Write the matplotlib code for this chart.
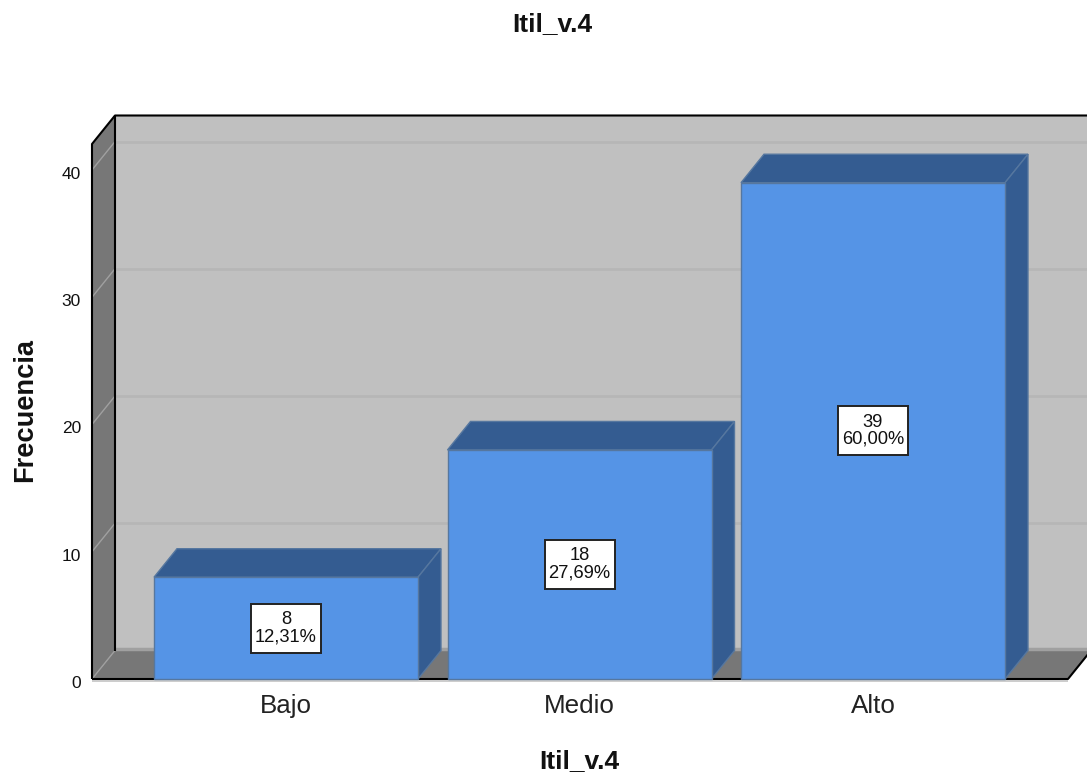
import matplotlib
matplotlib.use('Agg')
import matplotlib.pyplot as plt
from matplotlib.patches import Polygon, Rectangle
from matplotlib.transforms import ScaledTranslation

plt.rcParams['font.family'] = ['Liberation Sans', 'DejaVu Sans']

categories = ['Bajo', 'Medio', 'Alto']
counts = [8, 18, 39]
percents = ['12,31%', '27,69%', '60,00%']
y_ticks = [0, 10, 20, 30, 40]

W, H = 1087, 778
x_left, x_right = 92, 1068
y_bottom, y_top = 679, 144
px_per_cat = 293.5
px_per_unit = 12.725

front = '#5594e6'
shade = '#345c91'
edge = '#56779f'
wall = '#c0c0c0'
side = '#777777'

fig = plt.figure(figsize=(W / 100, H / 100), dpi=100)
ax = fig.add_axes([x_left / W, 1 - y_bottom / H, (x_right - x_left) / W, (y_bottom - y_top) / H])
ax.set_xlim(-194 / px_per_cat, (x_right - 286) / px_per_cat)
ax.set_ylim(0, (y_bottom - y_top) / px_per_unit)
for s in ax.spines.values():
    s.set_visible(False)
ax.patch.set_visible(False)

# depth of the fake 3d box, in data units
dx = 23 / px_per_cat
dy = 28.5 / px_per_unit
x0, x1 = ax.get_xlim()
y1 = ax.get_ylim()[1]
bar_w = 264 / px_per_cat


def poly(points, color, ec='none', lw=0, z=1):
    ax.add_patch(Polygon(points, closed=True, fc=color, ec=ec, lw=lw, zorder=z, clip_on=False))


def line(xs, ys, color='black', lw=1.5, z=2):
    ax.plot(xs, ys, color=color, lw=lw, zorder=z, clip_on=False, solid_capstyle='butt')


# walls and floor
poly([(x0 + dx, dy), (x1 + dx, dy), (x1 + dx, y1 + dy), (x0 + dx, y1 + dy)], wall)
poly([(x0, 0), (x0 + dx, dy), (x0 + dx, y1 + dy), (x0, y1)], side)
poly([(x0, 0), (x1, 0), (x1 + dx, dy), (x0 + dx, dy)], side)
line([x0 + dx, x1 + dx], [dy + 0.1, dy + 0.1], color='#a0a0a0', lw=2.5)

# grid on the back wall and the side wall
for t in y_ticks[1:]:
    line([x0 + dx, x1 + dx], [t + dy, t + dy], color='#b6b6b6', lw=2)
    line([x0, x0 + dx], [t, t + dy], color='#a0a0a0', lw=1)
line([x0, x0 + dx], [0, dy], color='#a0a0a0', lw=1)

# box outline
line([x0, x0, x0 + dx, x1 + dx], [0, y1, y1 + dy, y1 + dy])
line([x0 + dx, x0 + dx], [dy, y1 + dy])
line([x0, x1, x1 + dx], [0, 0, dy])
line([x0, x1], [-0.12, -0.12], color='#c4c4c4', lw=1.2)

# bars
ax.bar(range(len(counts)), counts, width=bar_w, color=front, edgecolor=edge, linewidth=1, zorder=4, clip_on=False)
for i, c in enumerate(counts):
    l, r = i - bar_w / 2, i + bar_w / 2
    poly([(l, c), (r, c), (r + dx, c + dy), (l + dx, c + dy)], shade, ec=edge, lw=1, z=3)
    poly([(r, 0), (r + dx, dy), (r + dx, c + dy), (r, c)], shade, ec=edge, lw=1, z=3)

    # value box in the middle of the bar
    bw = 70 / px_per_cat
    bh = 49 / px_per_unit
    ax.add_patch(Rectangle((i - bw / 2, c / 2 - bh / 2), bw, bh, fc='white', ec='#222222', lw=1.4, zorder=5))
    ax.text(i, c / 2, f'{c}\n{percents[i]}', ha='center', va='center', fontsize=13.2,
            linespacing=1.02, color='#111111', zorder=6)

ax.set_xticks(range(len(categories)))
ax.set_xticklabels(categories, fontsize=18.7, color='#222222')
ax.set_yticks(y_ticks)
ax.set_yticklabels(y_ticks, fontsize=12.5, color='#111111')
ax.tick_params(axis='x', length=0, pad=11)
ax.tick_params(axis='y', length=0, pad=8)

# nudge the y labels slightly under their grid level
nudge = ScaledTranslation(0, -2 / 72, fig.dpi_scale_trans)
for lab in ax.get_yticklabels():
    lab.set_transform(lab.get_transform() + nudge)

fig.text(552 / W, 1 - 24 / H, 'Itil_v.4', ha='center', va='center', fontsize=19, fontweight='bold', color='#111111')
fig.text(579 / W, 1 - 761 / H, 'Itil_v.4', ha='center', va='center', fontsize=19, fontweight='bold', color='#111111')
fig.text(25 / W, 1 - 410 / H, 'Frecuencia', ha='center', va='center', rotation=90, fontsize=19.6, fontweight='bold', color='#111111')

fig.savefig('out.png', dpi=100)
